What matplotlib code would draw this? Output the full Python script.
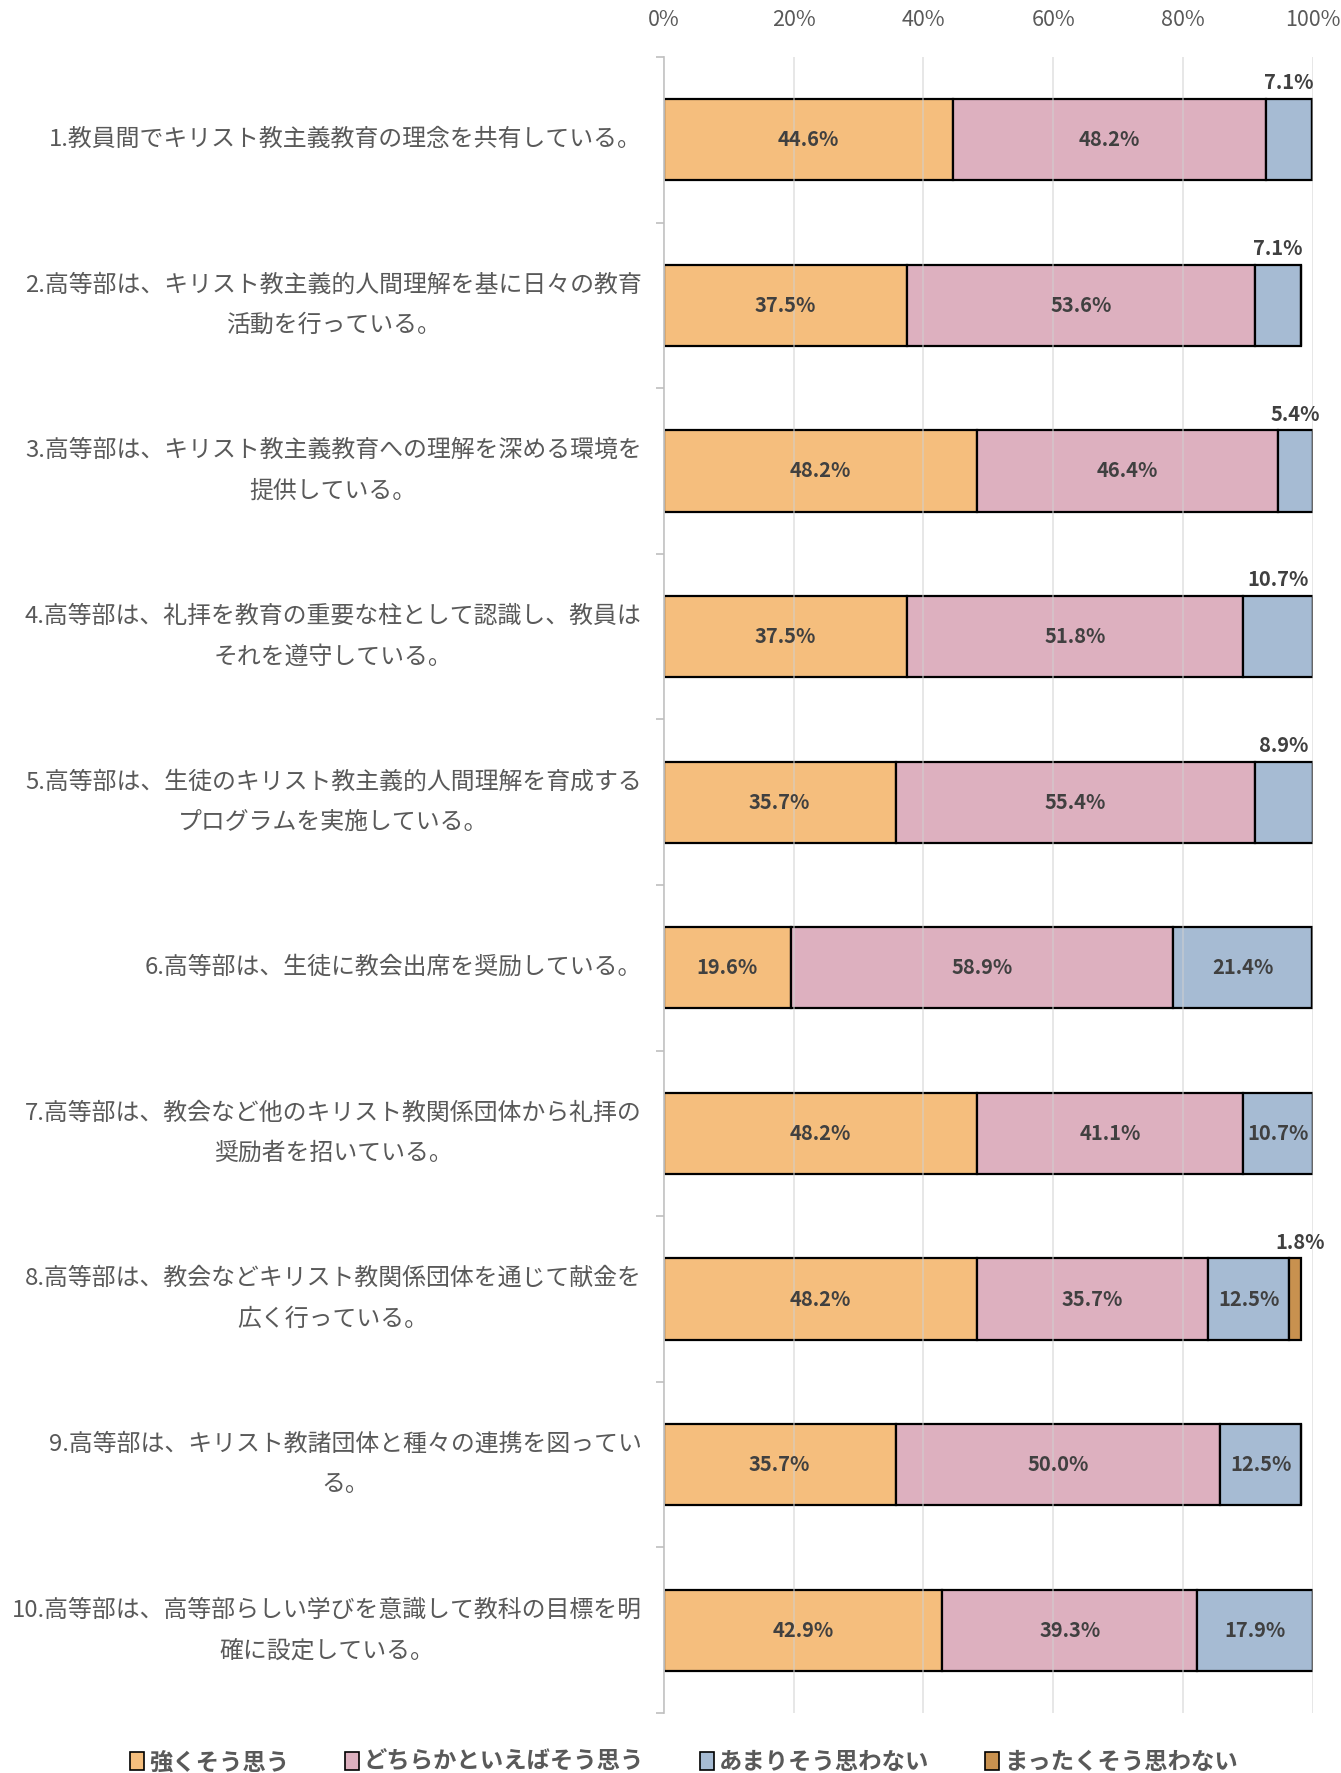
import matplotlib
matplotlib.use("Agg")
import matplotlib.pyplot as plt
import numpy as np
from matplotlib.patches import Patch

plt.rcParams['font.family'] = ['Noto Sans CJK JP', 'DejaVu Sans']

categories = [
    "1.教員間でキリスト教主義教育の理念を共有している。",
    "2.高等部は、キリスト教主義的人間理解を基に日々の教育\n活動を行っている。",
    "3.高等部は、キリスト教主義教育への理解を深める環境を\n提供している。",
    "4.高等部は、礼拝を教育の重要な柱として認識し、教員は\nそれを遵守している。",
    "5.高等部は、生徒のキリスト教主義的人間理解を育成する\nプログラムを実施している。",
    "6.高等部は、生徒に教会出席を奨励している。",
    "7.高等部は、教会など他のキリスト教関係団体から礼拝の\n奨励者を招いている。",
    "8.高等部は、教会などキリスト教関係団体を通じて献金を\n広く行っている。",
    "9.高等部は、キリスト教諸団体と種々の連携を図ってい\nる。",
    "10.高等部は、高等部らしい学びを意識して教科の目標を明\n確に設定している。",
]
series_names = ["強くそう思う", "どちらかといえばそう思う", "あまりそう思わない", "まったくそう思わない"]
strongly = [44.6, 37.5, 48.2, 37.5, 35.7, 19.6, 48.2, 48.2, 35.7, 42.9]
somewhat = [48.2, 53.6, 46.4, 51.8, 55.4, 58.9, 41.1, 35.7, 50.0, 39.3]
not_much = [7.1, 7.1, 5.4, 10.7, 8.9, 21.4, 10.7, 12.5, 12.5, 17.9]
not_at_all = [0, 0, 0, 0, 0, 0, 0, 1.8, 0, 0]
# which labels of the 3rd/4th series sit above the bar
not_much_above = [True, True, True, True, True, False, False, False, False, False]
not_at_all_above = [False, False, False, False, False, False, False, True, False, False]

colors = ["#F5BE7D", "#DDB0BF", "#A6BBD3", "#C8914F"]
label_color = "#404040"
text_gray = "#595959"

fig = plt.figure(figsize=(13.41, 17.73), dpi=100)
ax = fig.add_axes([0.495, 0.0338, 0.484, 0.9341])

y = np.arange(len(categories))
series = [strongly, somewhat, not_much, not_at_all]
left = np.zeros(len(categories))
bar_h = 0.49
for vals, c in zip(series, colors):
    v = np.array(vals, dtype=float)
    ax.barh(y, v, left=left, height=bar_h, color=c, edgecolor="black",
            linewidth=1.6, zorder=2)
    left += v

lbl_kw = dict(fontsize=14.5, fontweight="bold", color=label_color, zorder=4)
for i in range(len(categories)):
    ax.text(strongly[i] / 2, y[i], f"{strongly[i]:.1f}%", ha="center", va="center", **lbl_kw)
    x1 = strongly[i]
    ax.text(x1 + somewhat[i] / 2, y[i], f"{somewhat[i]:.1f}%", ha="center", va="center", **lbl_kw)
    x2 = x1 + somewhat[i]
    if not_much_above[i]:
        ax.text(x2 + not_much[i] / 2, y[i] - bar_h / 2 - 0.035, f"{not_much[i]:.1f}%",
                ha="center", va="bottom", **lbl_kw)
    else:
        ax.text(x2 + not_much[i] / 2, y[i], f"{not_much[i]:.1f}%", ha="center", va="center", **lbl_kw)
    x3 = x2 + not_much[i]
    if not_at_all[i] > 0 and not_at_all_above[i]:
        ax.text(x3 + not_at_all[i] / 2 + 0.8, y[i] - bar_h / 2 - 0.035, f"{not_at_all[i]:.1f}%",
                ha="center", va="bottom", **lbl_kw)

ax.set_xlim(0, 100)
ax.set_ylim(len(categories) - 0.5, -0.5)
ax.xaxis.tick_top()
ax.set_xticks(np.arange(0, 101, 20))
ax.set_xticklabels([f"{v}%" for v in range(0, 101, 20)])
ax.tick_params(axis="x", length=0, pad=19, labelsize=15.5, labelcolor=text_gray)

ax.set_yticks(y)
ax.set_yticklabels(categories)
ax.tick_params(axis="y", which="major", length=0, pad=16, labelsize=17.2, labelcolor=text_gray)
for t in ax.get_yticklabels():
    t.set_multialignment("center")
    t.set_linespacing(1.98)
    t.set_verticalalignment("center")
ax.set_yticks(np.arange(-0.5, len(categories), 1.0), minor=True)
ax.tick_params(axis="y", which="minor", length=6, width=1.2, color="#BFBFBF")

ax.grid(axis="x", color="#D0D0D0", linewidth=1.2, alpha=0.6, zorder=3)
ax.set_axisbelow(False)
for s in ["top", "right", "bottom"]:
    ax.spines[s].set_visible(False)
ax.spines["left"].set_color("#BFBFBF")
ax.spines["left"].set_linewidth(1.2)

handles = [Patch(facecolor=c, edgecolor="black", linewidth=1.2) for c in colors]
fig.legend(handles, series_names, loc="center", bbox_to_anchor=(0.51, 0.006), ncol=4,
           frameon=False, handlelength=0.6, handleheight=0.8, handletextpad=0.2,
           columnspacing=2.4, prop={"size": 16.8, "weight": "bold"}, labelcolor=text_gray)

fig.savefig("out.png", dpi=100)
